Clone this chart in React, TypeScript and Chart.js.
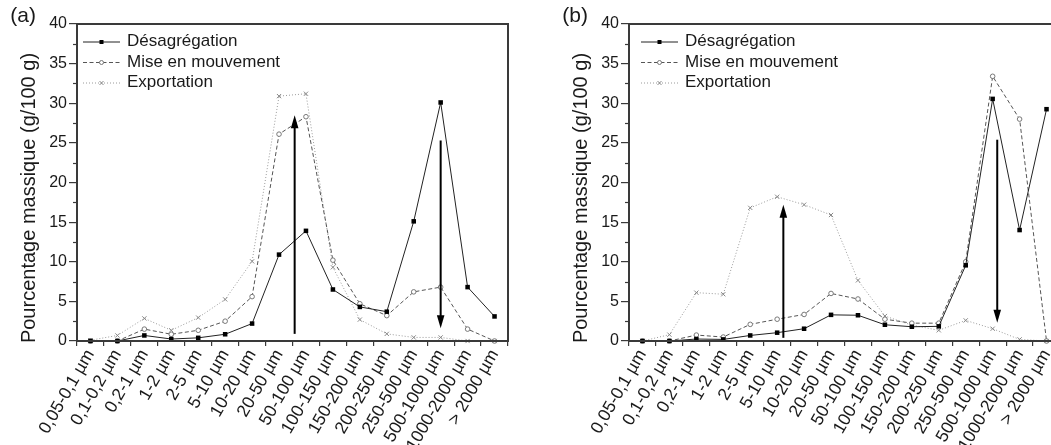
import { useEffect, useRef } from 'react';
import { Chart, registerables } from 'chart.js';

Chart.register(...registerables);

// ---------- data ----------
const categories = [
  '0,05-0,1 µm', '0,1-0,2 µm', '0,2-1 µm', '1-2 µm', '2-5 µm', '5-10 µm',
  '10-20 µm', '20-50 µm', '50-100 µm', '100-150 µm', '150-200 µm',
  '200-250 µm', '250-500 µm', '500-1000 µm', '1000-2000 µm', '> 2000 µm',
];
const seriesNames = ['Désagrégation', 'Mise en mouvement', 'Exportation'];
const yTicks = [0, 5, 10, 15, 20, 25, 30, 35, 40];

// panel (a)
const desagA = [0, 0, 0.7, 0.25, 0.4, 0.85, 2.2, 10.9, 13.9, 6.5, 4.3, 3.7, 15.1, 30.1, 6.8, 3.1];
const miseA = [0, 0, 1.5, 0.85, 1.35, 2.5, 5.6, 26.1, 28.3, 10.2, 4.7, 3.2, 6.2, 6.8, 1.5, 0];
const exportA = [0.1, 0.7, 2.85, 1.35, 2.95, 5.25, 10.05, 30.9, 31.2, 9.3, 2.7, 0.9, 0.45, 0.45, 0, 0];
const arrowIdxA = [7.58, 13.0];
const arrowFromA = [0.9, 25.3];
const arrowToA = [28.5, 1.6];

// panel (b)
const desagB = [0, 0, 0.25, 0.2, 0.7, 1.05, 1.55, 3.3, 3.25, 2.05, 1.8, 1.85, 9.55, 30.55, 14.0, 29.25];
const miseB = [0, 0, 0.75, 0.5, 2.1, 2.75, 3.35, 6.0, 5.3, 2.75, 2.25, 2.25, 10.0, 33.4, 28.0, 0];
const exportB = [0, 0.8, 6.1, 5.9, 16.8, 18.2, 17.2, 15.9, 7.65, 3.15, 2.0, 1.35, 2.6, 1.55, 0.2, 0];
const arrowIdxB = [5.23, 13.17];
const arrowFromB = [0.4, 25.4];
const arrowToB = [17.2, 2.3];

// ---------- styles ----------
const FONT = '"Liberation Sans", Arial, Helvetica, sans-serif';
const AXIS = '#3a3a3a';
const TXT = '#1a1a1a';
const C_DESAG = '#222222';
const C_MISE = '#555555';
const C_EXP = '#9a9a9a';
const DASH_MISE = [4, 2.5];
const DASH_EXP = [1, 2];

function drawMarker(ctx: CanvasRenderingContext2D, kind: number, x: number, y: number) {
  ctx.save();
  ctx.setLineDash([]);
  if (kind === 0) {
    ctx.fillStyle = '#000';
    ctx.fillRect(x - 2, y - 2, 4, 4);
  } else if (kind === 1) {
    ctx.strokeStyle = '#777';
    ctx.fillStyle = '#fff';
    ctx.lineWidth = 1;
    ctx.beginPath();
    ctx.arc(x, y, 2, 0, Math.PI * 2);
    ctx.fill();
    ctx.stroke();
  } else {
    ctx.strokeStyle = '#888';
    ctx.lineWidth = 1;
    ctx.beginPath();
    ctx.moveTo(x - 2, y - 2); ctx.lineTo(x + 2, y + 2);
    ctx.moveTo(x + 2, y - 2); ctx.lineTo(x - 2, y + 2);
    ctx.stroke();
  }
  ctx.restore();
}

function drawArrow(ctx: CanvasRenderingContext2D, x: number, y0: number, y1: number) {
  const dir = y1 < y0 ? -1 : 1;
  const headLen = 13;
  const headHalf = 3.8;
  ctx.save();
  ctx.strokeStyle = '#000';
  ctx.fillStyle = '#000';
  ctx.lineWidth = 2;
  ctx.setLineDash([]);
  ctx.beginPath();
  ctx.moveTo(x, y0);
  ctx.lineTo(x, y1 - dir * headLen + dir * 2);
  ctx.stroke();
  ctx.beginPath();
  ctx.moveTo(x, y1);
  ctx.lineTo(x - headHalf, y1 - dir * headLen);
  ctx.lineTo(x + headHalf, y1 - dir * headLen);
  ctx.closePath();
  ctx.fill();
  ctx.restore();
}

const decorPlugin = {
  id: 'decor',
  afterDatasetsDraw(chart: any, _args: any, o: any) {
    const { ctx, chartArea: ca, scales } = chart;
    const xs = scales.x;
    const ys = scales.y;
    // arrows
    o.arrowIdx.forEach((ax: number, i: number) => {
      drawArrow(ctx, xs.getPixelForValue(ax), ys.getPixelForValue(o.arrowFrom[i]), ys.getPixelForValue(o.arrowTo[i]));
    });
    ctx.save();
    // frame
    ctx.strokeStyle = AXIS;
    ctx.lineWidth = 2;
    ctx.strokeRect(ca.left, ca.top, ca.right - ca.left, ca.bottom - ca.top);
    // minor y ticks
    ctx.lineWidth = 1.2;
    for (let i = 0; i < yTicks.length - 1; i++) {
      const v = (yTicks[i] + yTicks[i + 1]) / 2;
      const py = Math.round(ys.getPixelForValue(v)) + 0.5;
      ctx.beginPath();
      ctx.moveTo(ca.left - 4, py);
      ctx.lineTo(ca.left, py);
      ctx.stroke();
    }
    // legend
    const rows = [41.5, 62, 82.5];
    const styles = [
      { c: C_DESAG, d: [] as number[] },
      { c: C_MISE, d: DASH_MISE },
      { c: C_EXP, d: DASH_EXP },
    ];
    const lx0 = ca.left + o.legendDx;
    const lx1 = lx0 + 37;
    seriesNames.forEach((name, i) => {
      const yy = rows[i] + 0.5;
      ctx.strokeStyle = styles[i].c;
      ctx.lineWidth = 1;
      ctx.setLineDash(styles[i].d);
      ctx.beginPath();
      ctx.moveTo(lx0, yy);
      ctx.lineTo(lx1, yy);
      ctx.stroke();
      ctx.setLineDash([]);
      drawMarker(ctx, i, (lx0 + lx1) / 2, yy);
      ctx.fillStyle = TXT;
      ctx.font = `17px ${FONT}`;
      ctx.textAlign = 'left';
      ctx.textBaseline = 'middle';
      ctx.fillText(name, lx1 + 7, rows[i]);
    });
    // panel letter
    ctx.font = `21px ${FONT}`;
    ctx.textAlign = 'right';
    ctx.textBaseline = 'middle';
    ctx.fillStyle = TXT;
    ctx.fillText(o.letter, ca.left - 41, 16);
    // y title
    ctx.translate(ca.left - 48, 198);
    ctx.rotate(-Math.PI / 2);
    ctx.textAlign = 'center';
    ctx.font = `20px ${FONT}`;
    ctx.fillText('Pourcentage massique (g/100 g)', 0, 0);
    ctx.restore();
  },
};

function buildChart(
  canvas: HTMLCanvasElement,
  desag: number[], mise: number[], expo: number[],
  yWidth: number, letter: string, legendDx: number,
  arrowIdx: number[], arrowFrom: number[], arrowTo: number[],
) {
  return new Chart(canvas, {
    type: 'line',
    data: {
      labels: categories,
      datasets: [
        {
          label: seriesNames[0], data: desag, borderColor: C_DESAG, borderWidth: 1,
          pointStyle: 'rect', pointRadius: 3.2, pointBackgroundColor: '#000', pointBorderColor: '#000',
          pointBorderWidth: 0, tension: 0, clip: false as any,
        },
        {
          label: seriesNames[1], data: mise, borderColor: C_MISE, borderWidth: 1, borderDash: DASH_MISE,
          pointStyle: 'circle', pointRadius: 2.3, pointBackgroundColor: '#fff', pointBorderColor: '#777',
          pointBorderWidth: 1, tension: 0, clip: false as any,
        },
        {
          label: seriesNames[2], data: expo, borderColor: C_EXP, borderWidth: 1, borderDash: DASH_EXP,
          pointStyle: 'crossRot', pointRadius: 3, pointBorderColor: '#888', pointBorderWidth: 1,
          tension: 0, clip: false as any,
        },
      ],
    },
    options: {
      responsive: false,
      animation: false,
      events: [],
      layout: { padding: { left: 0, top: 24, right: 17, bottom: 0 } },
      plugins: {
        legend: { display: false },
        tooltip: { enabled: false },
        decor: { letter, legendDx, arrowIdx, arrowFrom, arrowTo },
      } as any,
      scales: {
        x: {
          type: 'category',
          offset: true,
          grid: { offset: true, drawOnChartArea: false, drawTicks: true, tickLength: 5, color: AXIS, lineWidth: 1.2 },
          border: { display: false },
          ticks: {
            autoSkip: false, maxRotation: 60, minRotation: 60, padding: 0,
            color: TXT, font: { family: FONT, size: 17.5 },
          },
          afterFit: (s: any) => { s.height = 104; },
        },
        y: {
          min: 0, max: 40,
          afterBuildTicks: (s: any) => { s.ticks = yTicks.map((v) => ({ value: v })); },
          grid: { drawOnChartArea: false, drawTicks: true, tickLength: 8, color: AXIS, lineWidth: 1.2 },
          border: { display: false },
          ticks: { padding: 2, color: TXT, font: { family: FONT, size: 16 } },
          afterFit: (s: any) => { s.width = yWidth; },
        },
      },
    },
    plugins: [decorPlugin],
  });
}

export default function App() {
  const refA = useRef<HTMLCanvasElement>(null);
  const refB = useRef<HTMLCanvasElement>(null);
  useEffect(() => {
    const a = buildChart(refA.current!, desagA, miseA, exportA, 77, '(a)', 6, arrowIdxA, arrowFromA, arrowToA);
    const b = buildChart(refB.current!, desagB, miseB, exportB, 99, '(b)', 12, arrowIdxB, arrowFromB, arrowToB);
    return () => { a.destroy(); b.destroy(); };
  }, []);
  return (
    <div style={{ position: 'fixed', left: 0, top: 0, width: 1051, height: 445, overflow: 'hidden', background: '#fff' }}>
      <canvas ref={refA} width={525} height={445} style={{ position: 'absolute', left: 0, top: 0, display: 'block' }} />
      <canvas ref={refB} width={547} height={445} style={{ position: 'absolute', left: 530, top: 0, display: 'block' }} />
    </div>
  );
}
